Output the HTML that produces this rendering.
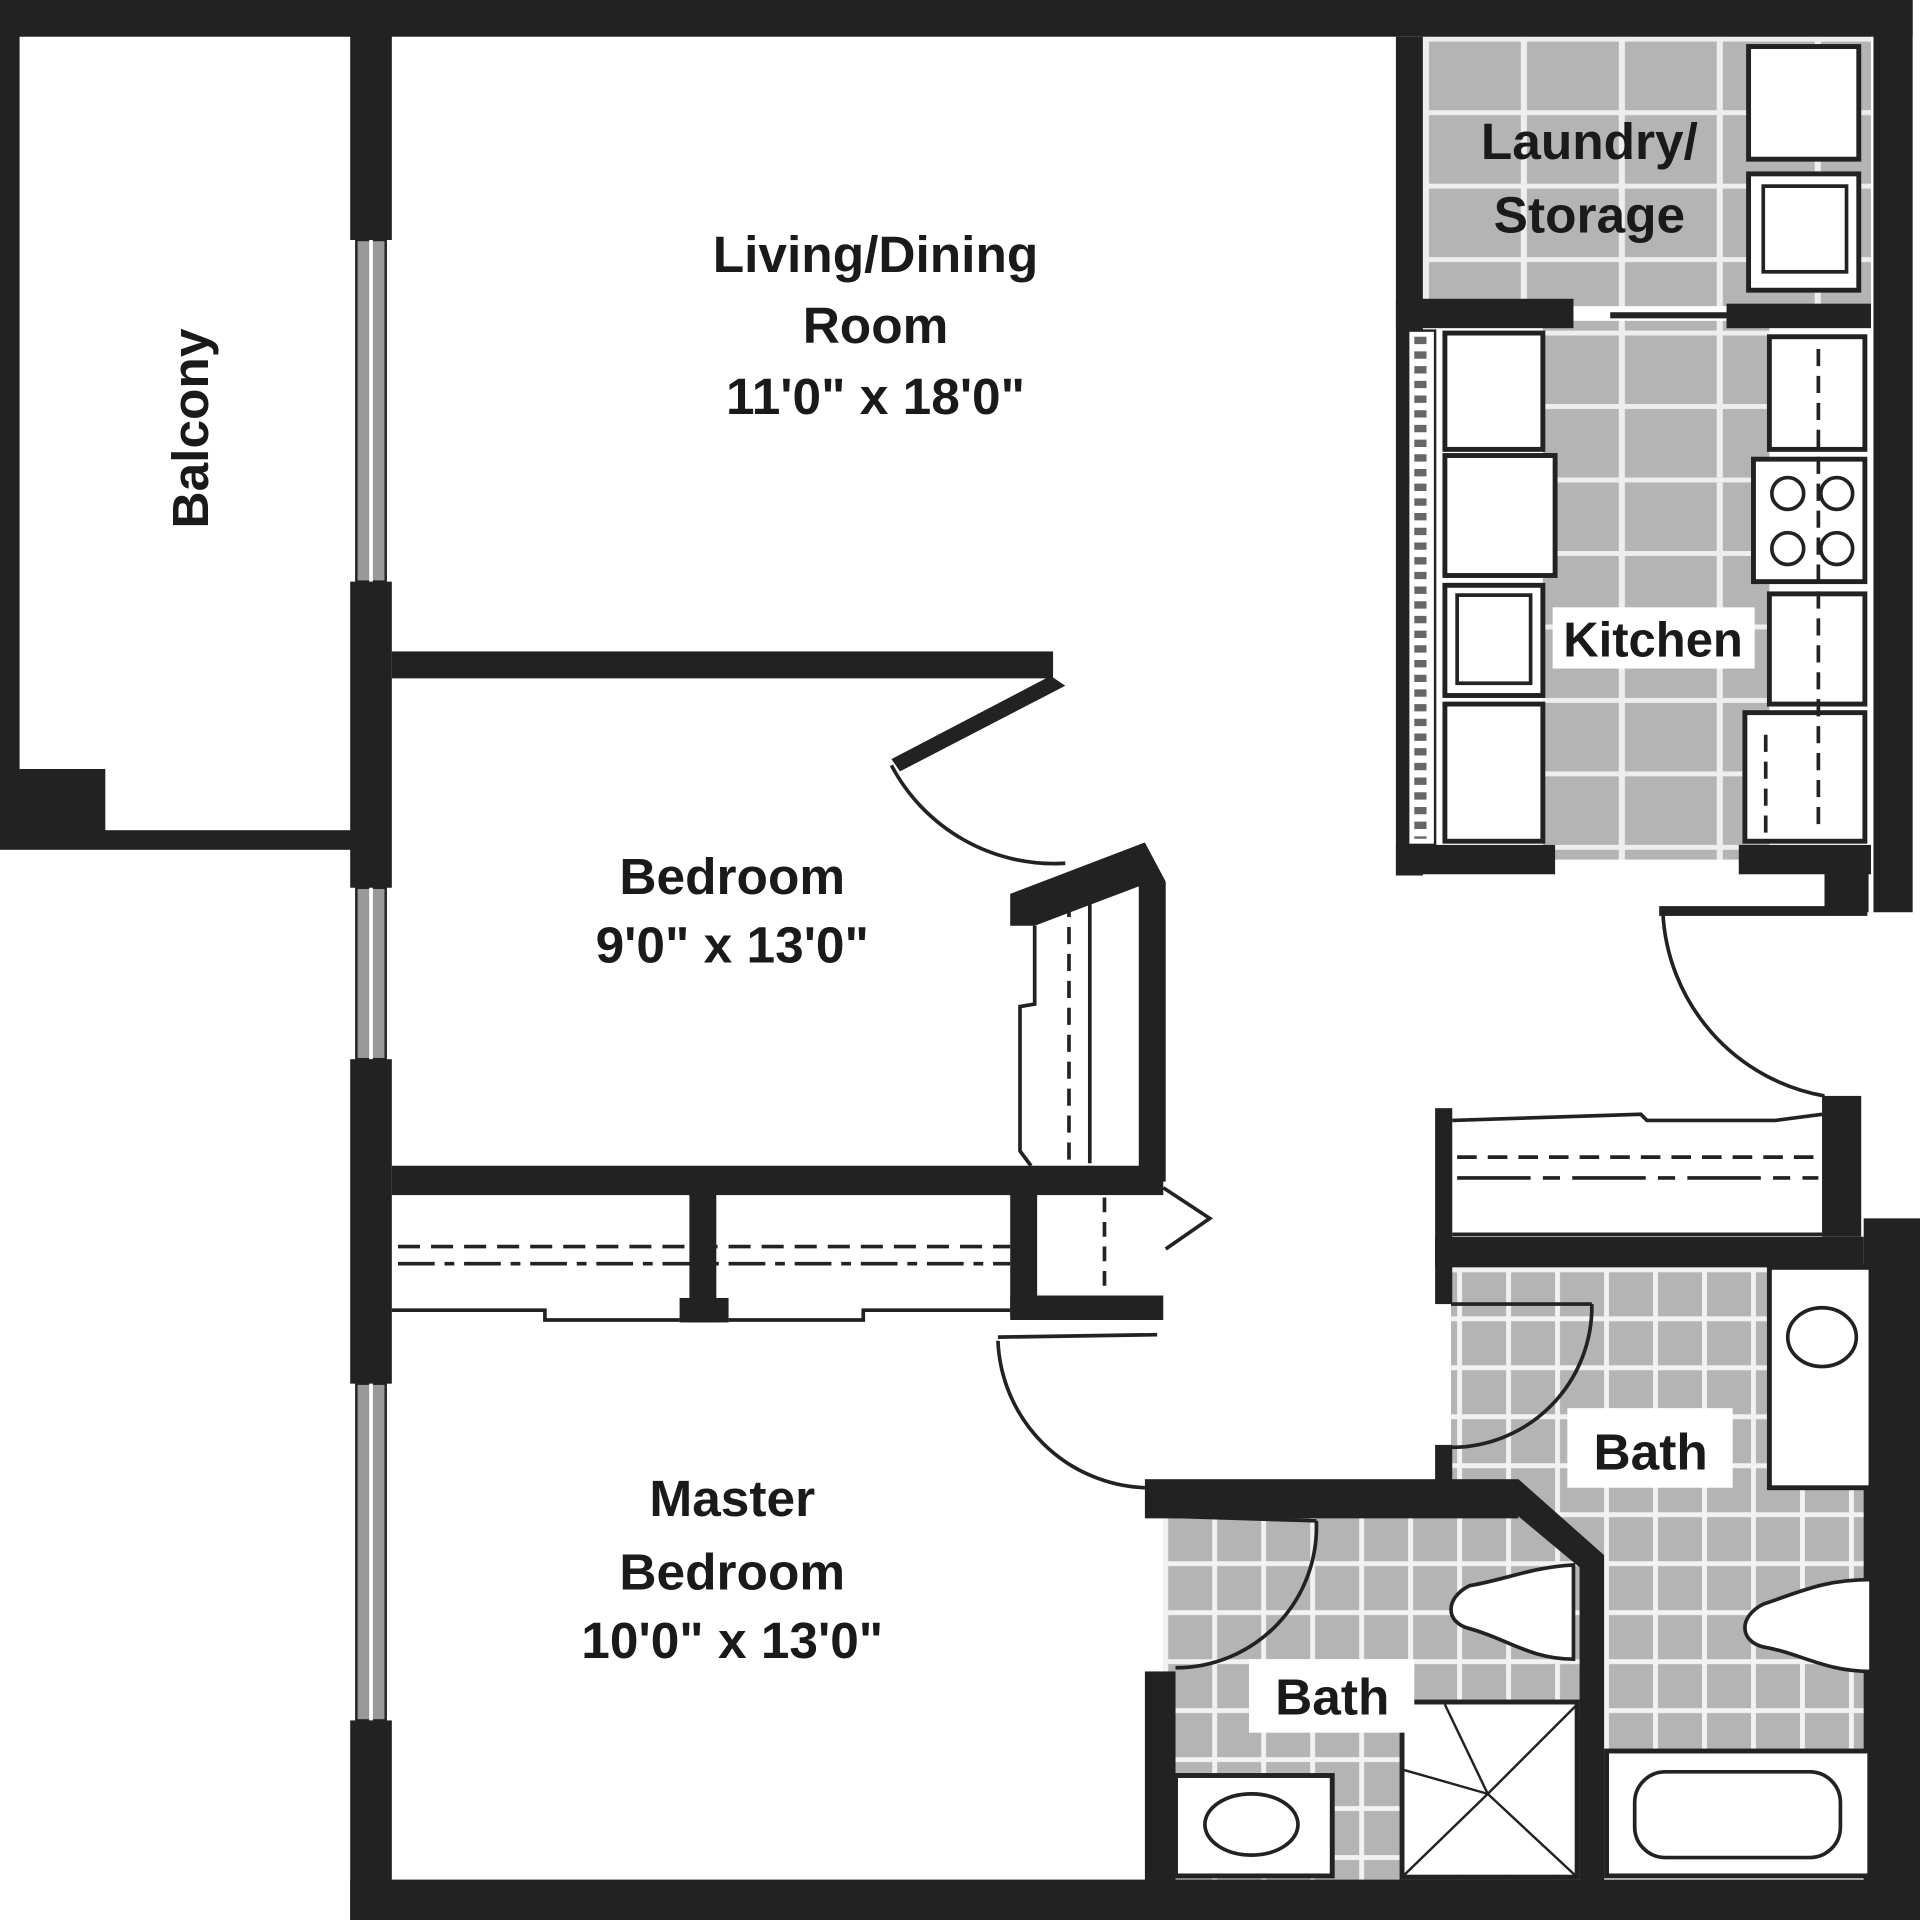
<!DOCTYPE html>
<html><head><style>
html,body{margin:0;padding:0;background:#fff;}
svg{display:block;}
text{font-family:"Liberation Sans",Arial,sans-serif;font-weight:bold;fill:#1a1a1a;}
</style></head><body>
<svg width="1920" height="1920" viewBox="0 0 1568 1568" xmlns="http://www.w3.org/2000/svg">
<defs>
<pattern id="big" x="1162" y="30" width="80" height="60" patternUnits="userSpaceOnUse">
<rect width="80" height="60" fill="#b4b4b4"/><rect x="0" y="0" width="5" height="60" fill="#eee"/><rect x="0" y="0" width="80" height="4" fill="#eee"/>
</pattern>
<pattern id="small" x="950" y="1035" width="40" height="40" patternUnits="userSpaceOnUse">
<rect width="40" height="40" fill="#b4b4b4"/><rect x="0" y="0" width="4" height="40" fill="#f2f2f2"/><rect x="0" y="0" width="40" height="4" fill="#f2f2f2"/>
</pattern>
</defs>
<rect width="1568" height="1568" fill="#fff"/>
<rect x="1162" y="30" width="366" height="220" fill="url(#big)"/>
<rect x="1260" y="262" width="185" height="440" fill="url(#big)"/>
<rect x="1185" y="1035" width="340" height="400" fill="url(#small)"/>
<rect x="950" y="1235" width="340" height="300" fill="url(#small)"/>
<g fill="#222">
<rect x="0" y="0" width="1562" height="30"/>
<rect x="0" y="0" width="16" height="692"/>
<rect x="0" y="678" width="290" height="16"/>
<rect x="0" y="628" width="86" height="64"/>
<rect x="286" y="0" width="34" height="196"/>
<rect x="286" y="475" width="34" height="250"/>
<rect x="286" y="865" width="34" height="265"/>
<rect x="286" y="1405" width="34" height="163"/>
<rect x="286" y="1535" width="1282" height="33"/>
<rect x="1530" y="0" width="32" height="745"/>
<rect x="1522" y="995" width="46" height="573"/>
<rect x="1488" y="895" width="32" height="115"/>
<rect x="1490" y="705" width="36" height="40"/>
<rect x="1355" y="740" width="170" height="8"/>
<rect x="1140" y="30" width="22" height="685"/>
<rect x="1140" y="690" width="130" height="24"/>
<rect x="1420" y="690" width="108" height="24"/>
<rect x="1140" y="244" width="145" height="24"/>
<rect x="1410" y="248" width="118" height="20"/>
<rect x="1315" y="255" width="95" height="5"/>
<rect x="320" y="532" width="540" height="22"/>
<rect x="320" y="952" width="630" height="24"/>
<rect x="563" y="975" width="22" height="105"/>
<rect x="555" y="1060" width="40" height="20"/>
<rect x="825" y="975" width="22" height="100"/>
<rect x="825" y="1058" width="125" height="20"/>
<rect x="930" y="720" width="22" height="245"/>
<rect x="935" y="1208" width="305" height="32"/>
<rect x="935" y="1365" width="25" height="175"/>
<rect x="1290" y="1270" width="20" height="270"/>
<rect x="1172" y="905" width="14" height="160"/>
<rect x="1172" y="1010" width="350" height="25"/>
<rect x="1172" y="1180" width="14" height="30"/>
<polygon points="1240,1208 1310,1270 1290,1280 1230,1230"/>
<polygon points="825,730 935,688 952,720 935,722 845,756 825,756"/>
</g>
<g fill="#999" stroke="#222" stroke-width="2">
<rect x="291" y="196" width="24" height="279"/>
<rect x="291" y="725" width="24" height="140"/>
<rect x="291" y="1130" width="24" height="275"/>
</g>
<g stroke="#fff" stroke-width="3"><line x1="303" y1="196" x2="303" y2="475"/><line x1="303" y1="725" x2="303" y2="865"/><line x1="303" y1="1130" x2="303" y2="1405"/></g>
<g fill="none" stroke="#222" stroke-width="3">
<path d="M728,625 A150,150 0 0 0 870,705"/>
<path d="M1358,745 A160,160 0 0 0 1490,895"/>
<path d="M815,1095 A125,125 0 0 0 935,1215"/>
<path d="M1185,1182 A115,115 0 0 0 1300,1065"/>
<path d="M960,1362 A115,115 0 0 0 1075,1242"/>
<line x1="815" y1="1092" x2="945" y2="1090"/>
<line x1="1185" y1="1065" x2="1300" y2="1065"/>
<line x1="948" y1="1238" x2="1075" y2="1242"/>
<polyline points="950,970 988,995 952,1020"/>
</g>
<polygon points="728,620 858,552 870,560 735,630" fill="#222"/>
<g fill="none" stroke="#222" stroke-width="3">
<polyline points="845,756 845,820 833,822 833,940 842,952"/>
<line x1="873" y1="735" x2="873" y2="950" stroke-dasharray="14,8"/>
<line x1="890" y1="730" x2="890" y2="950"/>
<polyline points="320,1070 445,1070 445,1078 555,1078"/>
<polyline points="595,1078 705,1078 705,1070 825,1070"/>
<line x1="325" y1="1018" x2="825" y2="1018" stroke-dasharray="18,9"/>
<line x1="325" y1="1032" x2="825" y2="1032" stroke-dasharray="30,8,8,8"/>
<line x1="902" y1="978" x2="902" y2="1058" stroke-dasharray="12,8"/>
<polyline points="1186,915 1340,910 1345,915 1450,915 1488,910"/>
<line x1="1186" y1="1008" x2="1488" y2="1008"/>
<line x1="1190" y1="945" x2="1485" y2="945" stroke-dasharray="16,9"/>
<line x1="1190" y1="962" x2="1485" y2="962" stroke-dasharray="60,10,14,10"/>
</g>
<g fill="#fff" stroke="#222" stroke-width="4">
<rect x="1428" y="38" width="90" height="92"/>
<rect x="1428" y="142" width="90" height="95"/>
<rect x="1440" y="152" width="68" height="70" stroke-width="3"/>
<rect x="1150" y="270" width="22" height="420" stroke-width="2"/>
<rect x="1180" y="272" width="80" height="95"/>
<rect x="1180" y="372" width="90" height="98"/>
<rect x="1180" y="478" width="80" height="90"/>
<rect x="1190" y="486" width="60" height="72" stroke-width="3"/>
<rect x="1180" y="575" width="80" height="112"/>
<rect x="1445" y="275" width="78" height="92"/>
<rect x="1432" y="375" width="91" height="100"/>
<rect x="1445" y="485" width="78" height="90"/>
<rect x="1425" y="582" width="98" height="105"/>
<rect x="1445" y="1035" width="83" height="180"/>
<rect x="1312" y="1430" width="215" height="102"/>
<rect x="960" y="1450" width="128" height="82"/>
<rect x="1145" y="1390" width="143" height="143"/>
</g>
<g fill="none" stroke="#222" stroke-width="3">
<rect x="1335" y="1447" width="168" height="70" rx="25"/>
<ellipse cx="1022" cy="1490" rx="38" ry="25"/>
<ellipse cx="1488" cy="1092" rx="28" ry="24"/>
<circle cx="1460" cy="403" r="13"/><circle cx="1500" cy="403" r="13"/>
<circle cx="1460" cy="448" r="13"/><circle cx="1500" cy="448" r="13"/>
<line x1="1485" y1="285" x2="1485" y2="680" stroke-dasharray="14,8"/>
<line x1="1442" y1="600" x2="1442" y2="680" stroke-dasharray="14,8"/>
<g stroke-width="2">
<line x1="1145" y1="1445" x2="1215" y2="1465"/>
<line x1="1180" y1="1392" x2="1215" y2="1465"/>
<line x1="1288" y1="1392" x2="1215" y2="1465"/>
<line x1="1145" y1="1533" x2="1215" y2="1465"/>
<line x1="1288" y1="1533" x2="1215" y2="1465"/>
</g>
<line x1="1160" y1="275" x2="1160" y2="685" stroke="#666" stroke-width="10" stroke-dasharray="6,6"/>
</g>
<g fill="#fff" stroke="#222" stroke-width="3">
<path d="M1528,1290 C1490,1290 1470,1300 1440,1310 C1420,1320 1420,1340 1440,1345 C1470,1350 1490,1365 1528,1365 Z"/>
<path d="M1285,1278 C1250,1280 1230,1290 1200,1295 C1180,1305 1180,1325 1200,1330 C1230,1338 1250,1355 1285,1355 Z"/>
</g>
<rect x="1268" y="496" width="165" height="50" fill="#fff"/>
<rect x="1280" y="1150" width="135" height="65" fill="#fff"/>
<rect x="1020" y="1355" width="135" height="60" fill="#fff"/>
<g font-size="42" text-anchor="middle">
<text x="715" y="222">Living/Dining</text>
<text x="715" y="280">Room</text>
<text x="715" y="338">11'0" x 18'0"</text>
<text x="598" y="730">Bedroom</text>
<text x="598" y="786">9'0" x 13'0"</text>
<text x="598" y="1238">Master</text>
<text x="598" y="1298">Bedroom</text>
<text x="598" y="1354">10'0" x 13'0"</text>
<text x="1298" y="130">Laundry/</text>
<text x="1298" y="190">Storage</text>
<text x="1350" y="536" font-size="40">Kitchen</text>
<text x="1348" y="1200">Bath</text>
<text x="1088" y="1400">Bath</text>
<text x="0" y="0" transform="translate(170,350) rotate(-90)">Balcony</text>
</g>
</svg>
</body></html>
